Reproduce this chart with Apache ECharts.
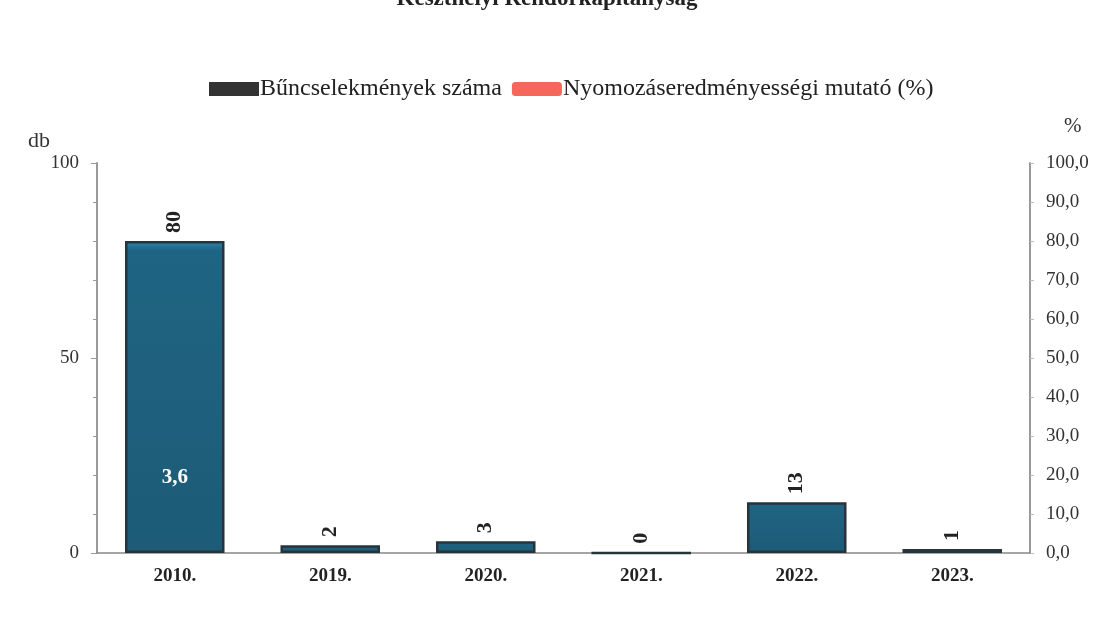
<!DOCTYPE html>
<html>
<head>
<meta charset="utf-8">
<script src="https://cdn.jsdelivr.net/npm/echarts@6/dist/echarts.min.js"></script>
<style>html,body{margin:0;padding:0;background:#fff;}#c{width:1094px;height:621px;}</style>
</head>
<body>
<div id="c"></div>
<script>
const titleText = 'Keszthelyi Rendőrkapitányság';
const categories = ['2010.', '2019.', '2020.', '2021.', '2022.', '2023.'];
const crimeCounts = [80, 2, 3, 0, 13, 1];
const clearanceRate = [3.6, null, null, null, null, null];
const seriesNames = ['Bűncselekmények száma', 'Nyomozáseredményességi mutató (%)'];

const serif = '"Liberation Serif", "DejaVu Serif", serif';
const chart = echarts.init(document.getElementById('c'));
chart.setOption({
  backgroundColor: '#fff',
  animation: false,
  title: {
    text: titleText, left: 'center', top: -17,
    textStyle: { fontFamily: serif, fontSize: 23, fontWeight: 'bold', color: '#222' }
  },
  legend: {
    top: 72, left: 204, itemGap: 10,
    itemWidth: 50, itemHeight: 14,
    textStyle: { fontFamily: serif, fontSize: 24, color: '#222', padding: [0,0,0,-4] },
    data: [
      { name: seriesNames[0], icon: 'rect', itemStyle: { color: '#333', borderWidth: 0 } },
      { name: seriesNames[1], icon: 'roundRect', itemStyle: { color: '#f4675a', borderWidth: 0 } }
    ]
  },
  grid: { left: 97, right: 64, top: 163, bottom: 68 },
  xAxis: {
    type: 'category', data: categories,
    axisLine: { lineStyle: { color: '#888', width: 1.5 } },
    axisTick: { show: false },
    axisLabel: { fontFamily: serif, fontSize: 19, fontWeight: 'bold', color: '#222', margin: 14 }
  },
  yAxis: [
    {
      type: 'value', min: 0, max: 100, interval: 50,
      axisLine: { show: true, lineStyle: { color: '#999', width: 2 } },
      axisTick: { show: true, length: 6, lineStyle: { color: '#999' } },
      minorTick: { show: true, splitNumber: 5, length: 4, lineStyle: { color: '#999' } },
      splitLine: { show: false },
      axisLabel: { fontFamily: serif, fontSize: 19, color: '#333', margin: 18 }
    },
    {
      type: 'value', min: 0, max: 100, interval: 10,
      axisLine: { show: true, lineStyle: { color: '#999', width: 2 } },
      axisTick: { show: true, length: 4, lineStyle: { color: '#bbb' } },
      splitLine: { show: false },
      axisLabel: {
        fontFamily: serif, fontSize: 19, color: '#333', margin: 16,
        formatter: v => v.toFixed(1).replace('.', ',')
      }
    }
  ],
  graphic: [
    { type: 'text', left: 28, top: 130, style: { text: 'db', font: '22px ' + serif, fill: '#333' } },
    { type: 'text', left: 1064, top: 116, style: { text: '%', font: '21px ' + serif, fill: '#333' } }
  ],
  series: [
    {
      name: seriesNames[0], type: 'bar', data: crimeCounts, yAxisIndex: 0,
      barWidth: '64%',
      itemStyle: {
        color: new echarts.graphic.LinearGradient(0, 0, 0, 1, [
          { offset: 0, color: '#2c86ad' }, { offset: 0.03, color: '#1f6483' }, { offset: 1, color: '#1d5b77' }
        ]),
        borderColor: '#26343b', borderWidth: 2.5
      },
      label: {
        show: true, position: 'top', rotate: 90, align: 'left', verticalAlign: 'middle', distance: 8,
        fontFamily: serif, fontSize: 22, fontWeight: 'bold', color: '#222'
      }
    },
    {
      name: seriesNames[1], type: 'line', data: clearanceRate, yAxisIndex: 1,
      symbol: 'circle', symbolSize: 1, showSymbol: true,
      lineStyle: { color: '#f4675a', width: 6 }, itemStyle: { color: 'rgba(0,0,0,0)' },
      label: {
        show: true, position: 'top', distance: 50,
        fontFamily: serif, fontSize: 21, fontWeight: 'bold', color: '#fff',
        formatter: p => p.value == null ? '' : String(p.value).replace('.', ',')
      },
      z: 5
    }
  ]
});
</script>
</body>
</html>
